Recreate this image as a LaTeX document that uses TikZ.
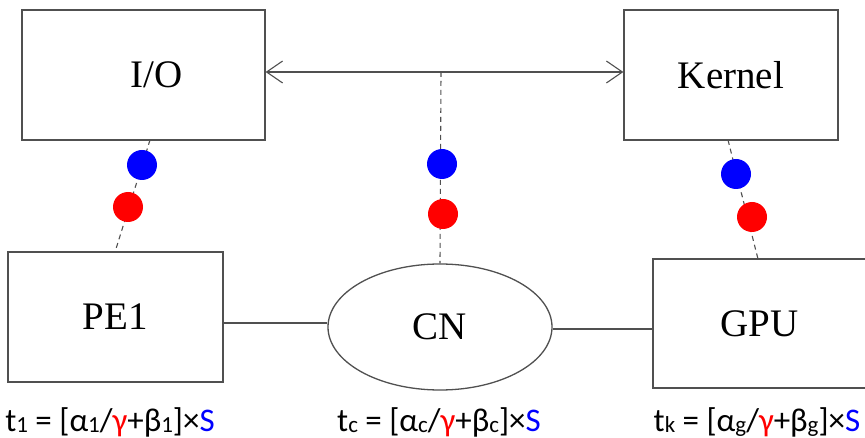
\documentclass[tikz,border=0pt]{standalone}
\usepackage{fontspec}
\setmainfont{Liberation Serif}
\newfontfamily\formfont{Carlito}
\usetikzlibrary{arrows.meta,shapes.geometric}
\definecolor{dotblue}{RGB}{0,0,255}
\definecolor{dotred}{RGB}{255,0,0}
\definecolor{linegray}{RGB}{80,80,80}
\newcommand{\lowidx}[1]{\raisebox{-1.5pt}{\fontsize{23}{25}\selectfont #1}}

\begin{document}
\begin{tikzpicture}[
  x=1pt, y=-1pt,
  every node/.style={font=\fontsize{39}{41}\selectfont},
  unit/.style={draw=linegray, line width=1.3pt, inner sep=0pt},
  net/.style={unit, ellipse},
  link/.style={draw=linegray, line width=1.1pt},
  wire/.style={draw=linegray, line width=1.1pt, dash pattern=on 5pt off 4pt},
  both/.style={link, {Straight Barb[length=16pt,width=22pt]}-{Straight Barb[length=16pt,width=22pt]}},
  dot/.style={circle, inner sep=0pt, minimum size=30pt},
  cost/.style={font=\formfont\fontsize{33}{35}\selectfont, anchor=base, inner sep=0pt}
]
  \fill[white] (0,0) rectangle (865,438);
  \useasboundingbox (0,0) rectangle (865,438);

  \node[unit, minimum width=243pt, minimum height=130pt] (io) at (143.5,75) {\hspace*{26pt}I/O};
  \node[unit, minimum width=214pt, minimum height=130pt] (kernel) at (731,75) {Kernel};
  \node[unit, minimum width=215pt, minimum height=130pt] (pe1) at (115.5,317) {PE1};
  \node[unit, minimum width=213pt, minimum height=129pt] (gpu) at (759.5,323.5) {GPU};
  \node[net, minimum width=224pt, minimum height=126pt] (cn) at (440,327) {CN};

  % wires to the bus and the network
  \coordinate (ioend) at (150,140);
  \coordinate (peend) at (115,252);
  \coordinate (busmid) at (441,72);
  \coordinate (kend) at (728,140);
  \coordinate (gend) at (758,259);
  \draw[wire] (ioend) -- (peend);
  \draw[wire] (busmid) -- (cn.north);
  \draw[wire] (kend) -- (gend);

  \draw[both] ([yshift=3pt]io.east) -- ([yshift=3pt]kernel.west);
  \draw[link] ([yshift=-6pt]pe1.east) -- ([yshift=4pt]cn.west);
  \draw[link] ([yshift=-2pt]cn.east) -- ([yshift=-5.5pt]gpu.west);

  \node[dot, fill=dotblue] (bio) at (142,165) {};
  \node[dot, fill=dotred] (rio) at (128,207) {};
  \node[dot, fill=dotblue] (bcn) at (442,164) {};
  \node[dot, fill=dotred] (rcn) at (443,214) {};
  \node[dot, fill=dotblue] (bk) at (736,174) {};
  \node[dot, fill=dotred] (rk) at (752,217) {};

  \node[cost] (tpe) at (110,431) {t\lowidx{1} = [α\lowidx{1}/\textcolor{dotred}{γ}+β\lowidx{1}]×\textcolor{dotblue}{S}};
  \node[cost] (tcn) at (439,431) {t\lowidx{c} = [α\lowidx{c}/\textcolor{dotred}{γ}+β\lowidx{c}]×\textcolor{dotblue}{S}};
  \node[cost] (tgpu) at (757,431) {t\lowidx{k} = [α\lowidx{g}/\textcolor{dotred}{γ}+β\lowidx{g}]×\textcolor{dotblue}{S}};
\end{tikzpicture}
\end{document}
